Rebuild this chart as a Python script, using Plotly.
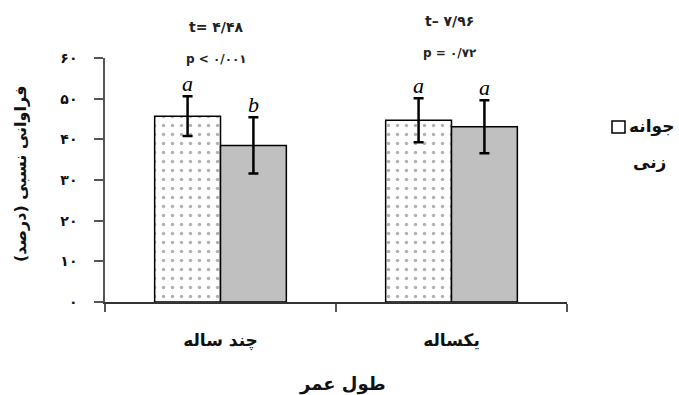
import plotly.graph_objects as go

categories = ["چند ساله", "یکساله"]
germ_values = [45.7, 44.7]
germ_errors = [4.9, 5.4]
gray_values = [38.5, 43.1]
gray_errors = [6.9, 6.5]
germ_letters = ["a", "a"]
gray_letters = ["b", "a"]
t_labels = ["t= ۴/۴۸", "t– ۷/۹۶"]
p_labels = ["p < ۰/۰۰۱", "p = ۰/۷۲"]
y_tickvals = [0, 10, 20, 30, 40, 50, 60]
y_ticktext = ["۰", "۱۰", "۲۰", "۳۰", "۴۰", "۵۰", "۶۰"]

FONT = "DejaVu Sans"
W, H = 679, 395
L, R, T, B = 105, 112, 58, 93
pw, ph = W - L - R, H - T - B

def px(x):
    return (x - L) / pw

def py(y):
    return (H - B - y) / ph

fig = go.Figure()
fig.add_trace(go.Bar(
    x=categories, y=germ_values, name="جوانه زنی",
    marker=dict(color="white", line=dict(color="black", width=1.5),
                pattern=dict(shape=".", fgcolor="#666666", bgcolor="white", size=9, solidity=0.12)),
    error_y=dict(type="data", array=germ_errors, color="black", thickness=2.5, width=5),
    showlegend=False,
))
fig.add_trace(go.Bar(
    x=categories, y=gray_values, name="",
    marker=dict(color="#c0c0c0", line=dict(color="black", width=1.5)),
    error_y=dict(type="data", array=gray_errors, color="black", thickness=2.5, width=5),
    showlegend=False,
))

ann = []
t_y = [27, 21]
p_y = [59, 53]
t_shift = [-4, -2]
for i, c in enumerate(categories):
    ann.append(dict(x=c, y=germ_values[i] + germ_errors[i], xref="x", yref="y", xshift=-33, yshift=-2,
                    text="<i>" + germ_letters[i] + "</i>", showarrow=False, yanchor="bottom",
                    font=dict(family="Liberation Serif", size=22, color="black")))
    ann.append(dict(x=c, y=gray_values[i] + gray_errors[i], xref="x", yref="y", xshift=33, yshift=-2,
                    text="<i>" + gray_letters[i] + "</i>", showarrow=False, yanchor="bottom",
                    font=dict(family="Liberation Serif", size=22, color="black")))
    ann.append(dict(x=c, y=py(t_y[i]), xref="x", yref="paper", xshift=t_shift[i],
                    xanchor="center", yanchor="middle",
                    text="<b>" + t_labels[i] + "</b>", showarrow=False,
                    font=dict(family=FONT, size=14, color="#222")))
    ann.append(dict(x=c, y=py(p_y[i]), xref="x", yref="paper", xshift=t_shift[i],
                    xanchor="center", yanchor="middle",
                    text="<b>" + p_labels[i] + "</b>", showarrow=False,
                    font=dict(family=FONT, size=12, color="#222")))

# axis titles
ann.append(dict(x=px(20), y=py(174), xref="paper", yref="paper", textangle=-90,
                xanchor="center", yanchor="middle",
                text="<b>فراوانی نسبی (درصد)</b>", showarrow=False,
                font=dict(family=FONT, size=16, color="#111")))
ann.append(dict(x=px(342), y=py(384), xref="paper", yref="paper",
                xanchor="center", yanchor="middle",
                text="<b>طول عمر</b>", showarrow=False,
                font=dict(family=FONT, size=18, color="#111")))
# legend
ann.append(dict(x=px(627), y=py(126), xref="paper", yref="paper", xanchor="left", yanchor="middle",
                text="<b>جوانه</b>", showarrow=False,
                font=dict(family=FONT, size=17, color="#111")))
ann.append(dict(x=px(668), y=py(162), xref="paper", yref="paper", xanchor="right", yanchor="middle",
                text="<b>زنی</b>", showarrow=False,
                font=dict(family=FONT, size=17, color="#111")))

shapes = [dict(type="rect", xref="paper", yref="paper",
               x0=px(612), x1=px(625), y0=py(133), y1=py(121),
               line=dict(color="black", width=1.5), fillcolor="white")]

fig.update_layout(
    width=W, height=H,
    margin=dict(l=L, r=R, t=T, b=B),
    paper_bgcolor="white", plot_bgcolor="white",
    barmode="group", bargap=0.43, bargroupgap=0,
    annotations=ann, shapes=shapes,
    font=dict(family=FONT, color="#111"),
)
fig.update_xaxes(
    showline=True, linecolor="#333", linewidth=1.5,
    ticks="outside", ticklen=8, tickcolor="#555", tickwidth=1.5,
    tickson="boundaries", showgrid=False,
    tickfont=dict(family=FONT, size=17, color="#111"),
    ticklabelstandoff=22,
    tickprefix="<b>", ticksuffix="</b>",
)
fig.update_yaxes(
    range=[0, 60], showline=True, linecolor="#555", linewidth=1.5,
    ticks="outside", ticklen=9, tickcolor="#555", tickwidth=1.5,
    tickvals=y_tickvals, ticktext=["<b>" + t + "</b>" for t in y_ticktext],
    showgrid=False, zeroline=False,
    tickfont=dict(family=FONT, size=14, color="#111"),
    ticklabelstandoff=14,
)
fig.write_html("out.html", config={"displayModeBar": False},
               post_script="document.body.style.margin='0';document.body.style.overflow='hidden';")
